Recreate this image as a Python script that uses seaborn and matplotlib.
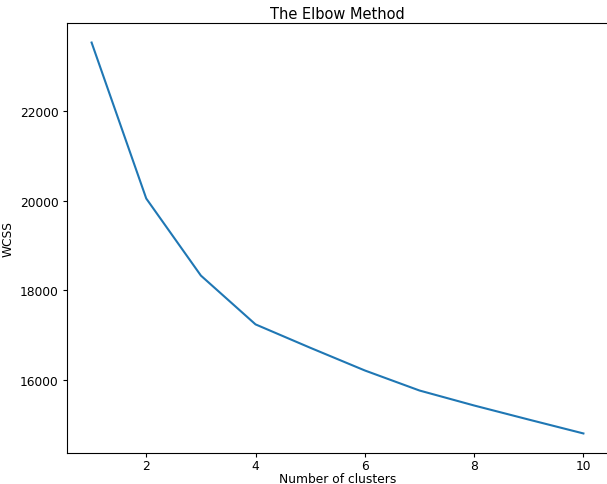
import pandas as pd
import matplotlib
matplotlib.use("Agg")
import matplotlib.pyplot as plt
import seaborn as sns

# Elbow curve values
n_clusters = [1, 2, 3, 4, 5, 6, 7, 8, 9, 10]
wcss = [23538, 20052, 18329, 17238, 16716, 16208, 15760, 15425, 15110, 14800]


def plot_elbow():
    data = pd.DataFrame({"clusters": n_clusters, "wcss": wcss})

    fig = plt.figure(figsize=(6.07, 4.85), dpi=100)
    ax = fig.add_axes([67 / 607, 31 / 485, 541 / 607, 430 / 485])

    sns.lineplot(data=data, x="clusters", y="wcss", color="#1f77b4", linewidth=1.5, ax=ax)

    ax.set_title("The Elbow Method", fontsize=10.5, pad=3.5)
    ax.set_xlabel("Number of clusters", fontsize=8.8, labelpad=0.5)
    ax.set_ylabel("WCSS", fontsize=8.8, labelpad=4)
    ax.tick_params(labelsize=8.8, length=3, pad=3)
    ax.tick_params(axis="x", pad=1)

    fig.savefig("out.png", dpi=100)


if __name__ == "__main__":
    plot_elbow()
